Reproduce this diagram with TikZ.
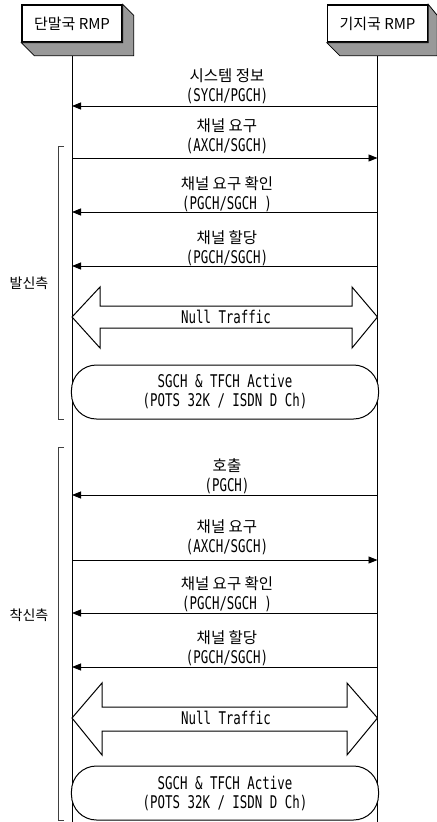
\documentclass[tikz,border=0pt]{standalone}
\usepackage{fontspec}
\setmainfont{Noto Sans CJK KR}
\newfontfamily\latf[FakeStretch=0.71]{DejaVu Sans Mono}
\usetikzlibrary{arrows.meta,calc}
\begin{document}
\begin{tikzpicture}[x=1bp,y=-1bp,
  hdr/.style={draw,line width=1.4bp,fill=white,minimum width=100bp,minimum height=37bp,inner sep=0pt,font=\fontsize{15bp}{17bp}\selectfont},
  side3d/.style={fill=black!40,draw=black,line width=0.8bp},
  life/.style={line width=0.8bp},
  msg/.style={line width=0.8bp,-{Triangle[length=9bp,width=7bp]}},
  lbl/.style={align=center,inner sep=0pt,font=\fontsize{15.5bp}{20bp}\selectfont},
  lat/.style={font=\latf\fontsize{17.5bp}{20bp}\selectfont},
  dbl/.style={draw,fill=white,line width=1bp,line join=miter},
  pill/.style={draw,fill=white,line width=1bp,rounded corners=25bp,minimum width=307bp,minimum height=54bp,inner sep=0pt,align=center,font=\latf\fontsize{17.5bp}{19bp}\selectfont},
  brk/.style={draw=black!75,line width=1bp},
  side/.style={inner sep=0pt,font=\fontsize{14bp}{17bp}\selectfont}
]
\useasboundingbox (0,0) rectangle (437,822);

% header boxes
\node[hdr] (L) at (72,23.5) {단말국 RMP};
\node[hdr] (R) at (377.5,23.5) {기지국 RMP};
\path[side3d] (L.north east) -- ++(11,11) -- ($(L.south east)+(11,13)$) -- ($(L.south west)+(13,13)$) -- (L.south west) -- (L.south east) -- cycle;
\path[side3d] (R.north east) -- ++(9,11) -- ($(R.south east)+(9,13)$) -- ($(R.south west)+(13,13)$) -- (R.south west) -- (R.south east) -- cycle;

% lifelines
\coordinate (Lb) at (L |- 0,822);
\coordinate (Rb) at (R |- 0,822);
\draw[life] ($(L.south)+(0,13)$) -- (Lb);
\draw[life] ($(R.south)+(0,13)$) -- (Rb);

% brackets
\draw[brk] (64,146) -- (58,146) -- (58,419) -- (64,419);
\draw[brk] (64,447) -- (58,447) -- (58,820) -- (64,820);
\node[side] (s1) at (29,283) {발신측};
\node[side] (s2) at (29,615) {착신측};

% messages (first group)
\node[lbl] (m1) at (227,86) {시스템 정보\\{\latf\fontsize{17.5bp}{20bp}\selectfont (SYCH/PGCH)}};
\draw[msg] (R |- 0,106) -- (L |- 0,106);
\node[lbl] (m2) at (227,136) {채널 요구\\{\latf\fontsize{17.5bp}{20bp}\selectfont (AXCH/SGCH)}};
\draw[msg] (L |- 0,158) -- (R |- 0,158);
\node[lbl] (m3) at (227,194) {채널 요구 확인\\{\latf\fontsize{17.5bp}{20bp}\selectfont (PGCH/SGCH )}};
\draw[msg] (R |- 0,212) -- (L |- 0,212);
\node[lbl] (m4) at (227,248) {채널 할당\\{\latf\fontsize{17.5bp}{20bp}\selectfont (PGCH/SGCH)}};
\draw[msg] (R |- 0,266) -- (L |- 0,266);

\path[dbl] (L |- 0,317) -- (100,287) -- (100,306) -- (352,306) -- (352,287) -- (R |- 0,317) -- (352,348) -- (352,328) -- (100,328) -- (100,348) -- cycle;
\node[lbl,lat] (n1) at (226,317) {Null Traffic};
\node[pill] (a1) at (225,392) {SGCH \& TFCH Active\\(POTS 32K / ISDN D Ch)};

% messages (second group)
\node[lbl] (m5) at (227,476) {호출\\{\latf\fontsize{17.5bp}{20bp}\selectfont (PGCH)}};
\draw[msg] (R |- 0,495) -- (L |- 0,495);
\node[lbl] (m6) at (227,537) {채널 요구\\{\latf\fontsize{17.5bp}{20bp}\selectfont (AXCH/SGCH)}};
\draw[msg] (L |- 0,560) -- (R |- 0,560);
\node[lbl] (m7) at (227,594) {채널 요구 확인\\{\latf\fontsize{17.5bp}{20bp}\selectfont (PGCH/SGCH )}};
\draw[msg] (R |- 0,613) -- (L |- 0,613);
\node[lbl] (m8) at (227,648) {채널 할당\\{\latf\fontsize{17.5bp}{20bp}\selectfont (PGCH/SGCH)}};
\draw[msg] (R |- 0,667) -- (L |- 0,667);

\path[dbl] (L |- 0,718) -- (102,683) -- (102,707) -- (347,707) -- (347,683) -- (R |- 0,718) -- (347,755) -- (347,731) -- (102,731) -- (102,755) -- cycle;
\node[lbl,lat] (n2) at (226,718) {Null Traffic};
\node[pill] (a2) at (225,793) {SGCH \& TFCH Active\\(POTS 32K / ISDN D Ch)};
\end{tikzpicture}
\end{document}
